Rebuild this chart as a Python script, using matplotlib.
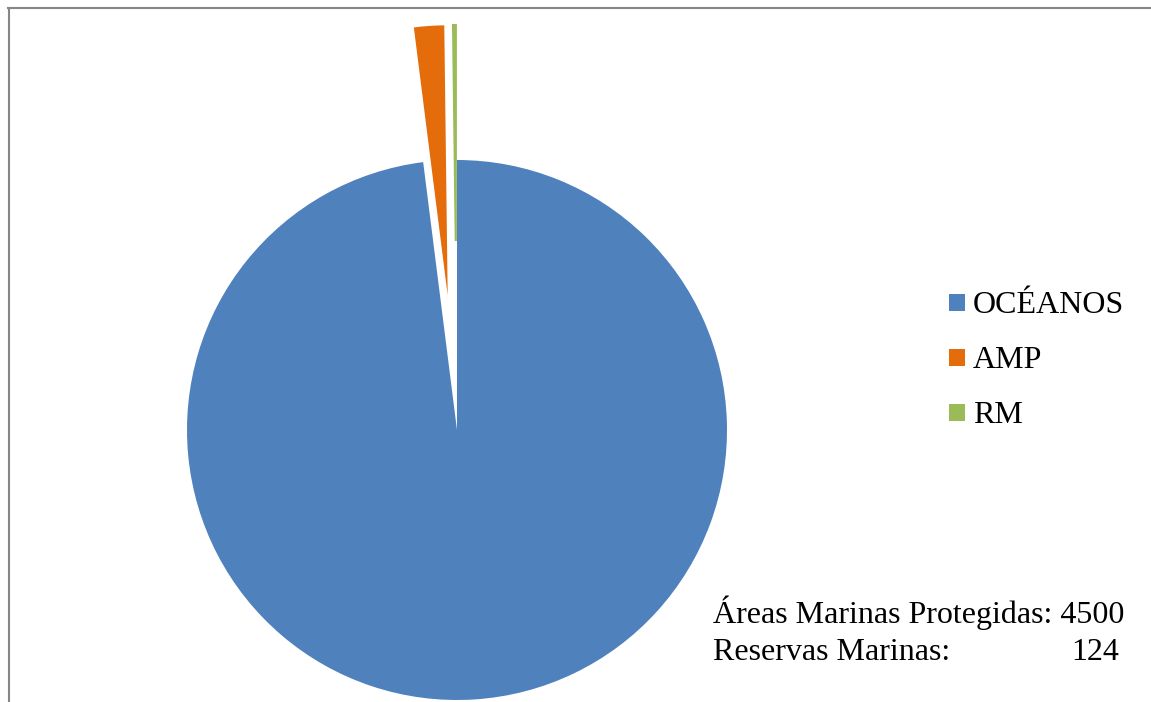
import matplotlib
matplotlib.use('Agg')
import matplotlib.pyplot as plt
from matplotlib.patches import Rectangle
from matplotlib.lines import Line2D

labels = ['OCÉANOS', 'AMP', 'RM']
values = [98.0, 1.8, 0.2]
colors = ['#4F81BD', '#E46C0A', '#9BBB59']
explode = [0.0, 0.5, 0.7]
note_labels = ['Áreas Marinas Protegidas:', 'Reservas Marinas:']
note_values = ['4500', '124']

W, H = 1151, 702
fig = plt.figure(figsize=(W / 100, H / 100), dpi=100)


def fx(px):
    return px / W


def fy(py):
    return 1 - py / H


R = 270.0
ax = fig.add_axes([fx(150), fy(702), 614 / W, 678 / H])
wedges, _ = ax.pie(values, colors=colors, startangle=90, counterclock=False,
                   explode=explode, radius=1.0, wedgeprops=dict(linewidth=0))
for w in wedges:
    w.set_clip_on(True)
wedges[2].set_edgecolor(colors[2])
wedges[2].set_linewidth(1.6)
ax.set_xlim(-307 / R, 307 / R)
ax.set_ylim(-272 / R, 406 / R)
ax.set_aspect('auto')
ax.axis('off')

# chart area border (top and left visible)
border = '#868686'
fig.add_artist(Line2D([fx(8), fx(1151)], [fy(8), fy(8)], color=border, lw=1.5,
                      transform=fig.transFigure))
fig.add_artist(Line2D([fx(9), fx(9)], [fy(8), fy(702)], color=border, lw=1.5,
                      transform=fig.transFigure))

font = 'Liberation Serif'
fs = 23
# legend
for i, (lab, col) in enumerate(zip(labels, colors)):
    base = [313, 368, 423][i]
    fig.add_artist(Rectangle((fx(949), fy(base - 2)), 16 / W, 17 / H,
                             facecolor=col, edgecolor='none',
                             transform=fig.transFigure))
    fig.text(fx(973), fy(base), lab, fontfamily=font, fontsize=fs,
             va='baseline', ha='left')

# note text
for i, (lab, val) in enumerate(zip(note_labels, note_values)):
    base = [623, 660][i]
    if i == 0:
        fig.text(fx(713), fy(base), lab + ' ' + val, fontfamily=font,
                 fontsize=fs, va='baseline', ha='left')
    else:
        fig.text(fx(713), fy(base), lab, fontfamily=font, fontsize=fs,
                 va='baseline', ha='left')
        fig.text(fx(1119), fy(base), val, fontfamily=font, fontsize=fs,
                 va='baseline', ha='right')

fig.savefig('out.png', dpi=100)
